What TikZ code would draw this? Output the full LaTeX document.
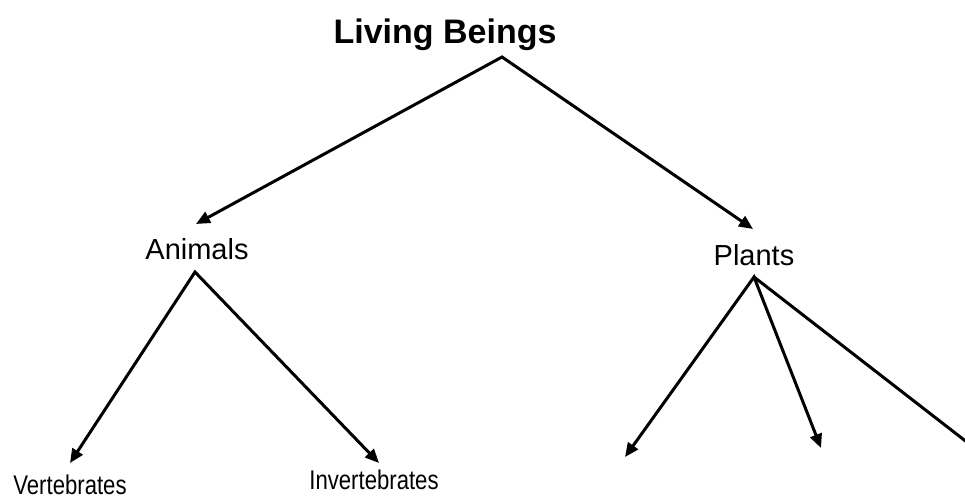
\documentclass[tikz,border=0pt]{standalone}
\usepackage{fontspec}
\setmainfont{Liberation Sans}
\newfontfamily\narrowfont[FakeStretch=0.82]{Liberation Sans}
\usetikzlibrary{arrows.meta}
\begin{document}
\begin{tikzpicture}[x=1pt,y=-1pt,
  lbl/.style={anchor=base,inner sep=0pt},
  big/.style={lbl,font=\bfseries\fontsize{34}{40}\selectfont},
  mid/.style={lbl,font=\fontsize{29}{34}\selectfont},
  small/.style={lbl,font=\narrowfont\fontsize{27}{32}\selectfont},
  tip/.style={line width=3pt,line join=miter,{Triangle[length=14pt,width=12pt]}-{Triangle[length=14pt,width=12pt]}},
  ln/.style={line width=3pt}]
\useasboundingbox (0,0) rectangle (965,498);
\node[big] (lb) at (445,43) {Living Beings};
\node[mid] (an) at (197,259) {Animals};
\node[mid] (pl) at (754,265) {Plants};
\node[small] (ve) at (70,494) {Vertebrates};
\node[small] (in) at (374,489) {Invertebrates};
\coordinate (lbA) at (502,57);
\coordinate (anT) at (196,224);
\coordinate (plT) at (753,229);
\coordinate (anA) at (195,272);
\coordinate (veT) at (70,463);
\coordinate (inT) at (379,463);
\coordinate (plA) at (754,277);
\coordinate (p1T) at (625,457);
\coordinate (p2T) at (821,448);
\coordinate (p3E) at (990,460);
\draw[tip] (anT) -- (lbA) -- (plT);
\draw[tip] (veT) -- (anA) -- (inT);
\draw[tip] (p1T) -- (plA) -- (p2T);
\begin{scope}
\clip (0,0) rectangle (965,498);
\draw[ln] (plA) -- (p3E);
\end{scope}
\end{tikzpicture}
\end{document}
